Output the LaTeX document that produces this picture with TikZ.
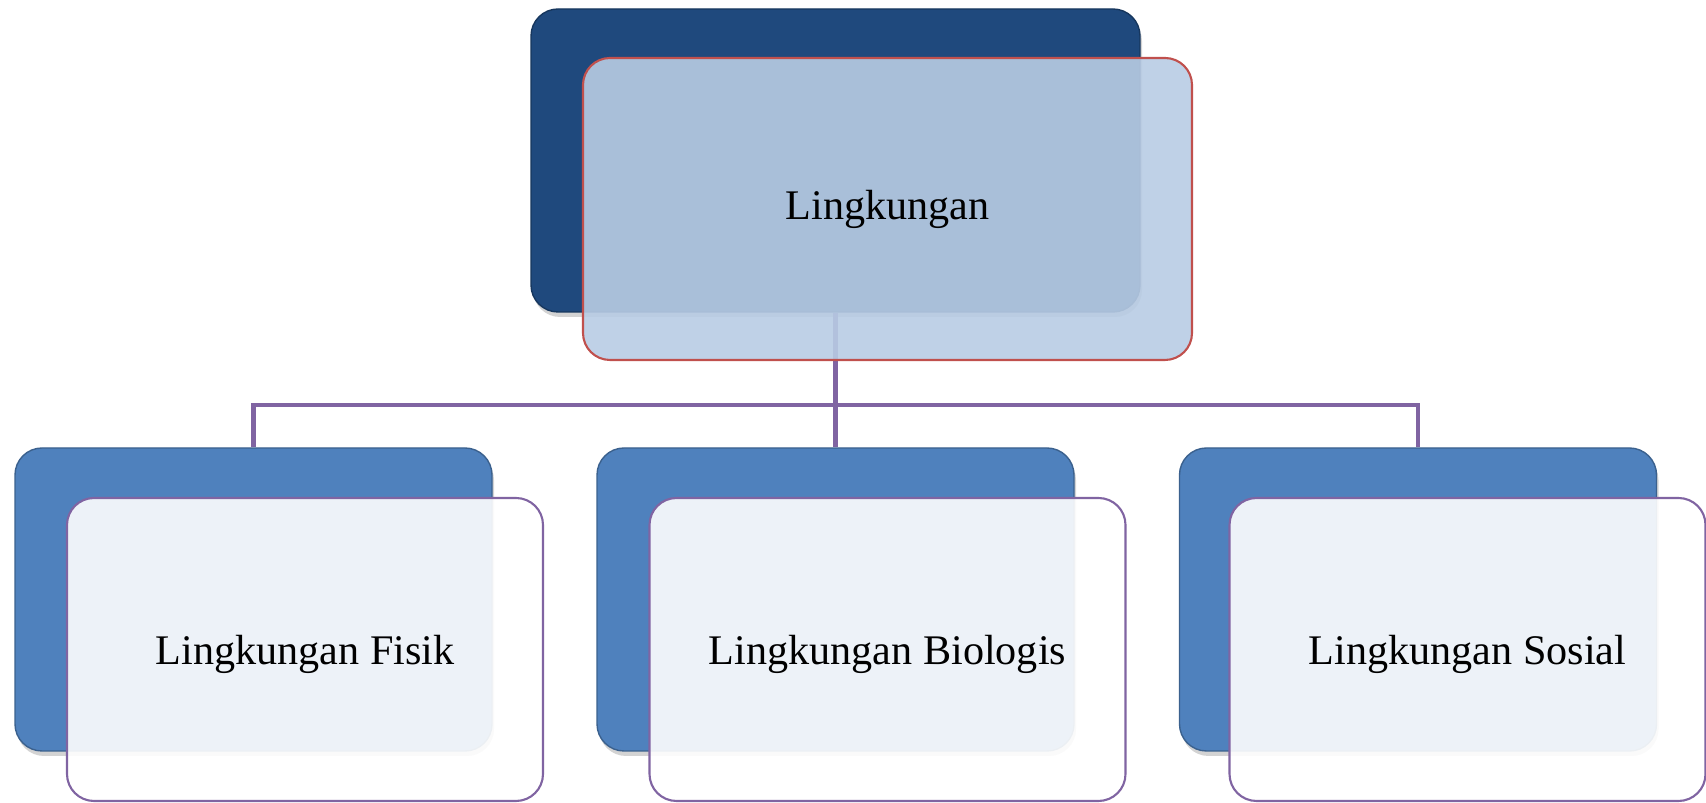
\documentclass[tikz,border=0pt]{standalone}
\usepackage{fontspec}
\setmainfont{Liberation Serif}
\usetikzlibrary{shadows}
\definecolor{biruTua}{HTML}{1F497D}
\definecolor{biru}{HTML}{4F81BD}
\definecolor{biruMuda}{HTML}{B8CCE4}
\definecolor{merah}{HTML}{C0504D}
\definecolor{ungu}{HTML}{8064A2}

\begin{document}
\begin{tikzpicture}[
  kotak/.style={rounded corners=0.27cm, inner sep=0pt, font=\fontsize{12}{14}\selectfont},
  belakang/.style={kotak, fill=#1, draw=#1!75!black, line width=0.4pt,
    drop shadow={opacity=0.35, shadow xshift=0.02cm, shadow yshift=-0.05cm}},
  depan/.style={kotak, fill=#1, fill opacity=0.9, text opacity=1, line width=0.6pt},
  garis/.style={draw=ungu, line width=1.25pt}
]
\useasboundingbox (0,0) rectangle (17.06,8.03);
% kotak belakang
\node[belakang=biruTua, minimum width=6.09cm, minimum height=3.03cm] (akar) at (8.355,6.425) {};
\node[belakang=biru, minimum width=4.77cm, minimum height=3.03cm] (fisikB) at (2.535,2.035) {};
\node[belakang=biru, minimum width=4.77cm, minimum height=3.03cm] (bioB) at (8.355,2.035) {};
\node[belakang=biru, minimum width=4.77cm, minimum height=3.03cm] (sosB) at (14.18,2.035) {};
% garis penghubung
\coordinate (cabang) at (8.355,3.98);
\draw[garis] (akar.south) -- (bioB.north);
\draw[garis] (fisikB.north) |- (cabang) -| (sosB.north);
% kotak depan
\node[depan=biruMuda, draw=merah, minimum width=6.09cm, minimum height=3.02cm] (akarT) at (8.875,5.94) {Lingkungan};
\node[depan=white, draw=ungu, text depth=0pt, minimum width=4.76cm, minimum height=3.03cm] (fisik) at (3.05,1.535) {Lingkungan Fisik};
\node[depan=white, draw=ungu, text depth=0pt, minimum width=4.76cm, minimum height=3.03cm] (bio) at (8.875,1.535) {Lingkungan Biologis};
\node[depan=white, draw=ungu, text depth=0pt, minimum width=4.76cm, minimum height=3.03cm] (sos) at (14.675,1.535) {Lingkungan Sosial};
\end{tikzpicture}
\end{document}
